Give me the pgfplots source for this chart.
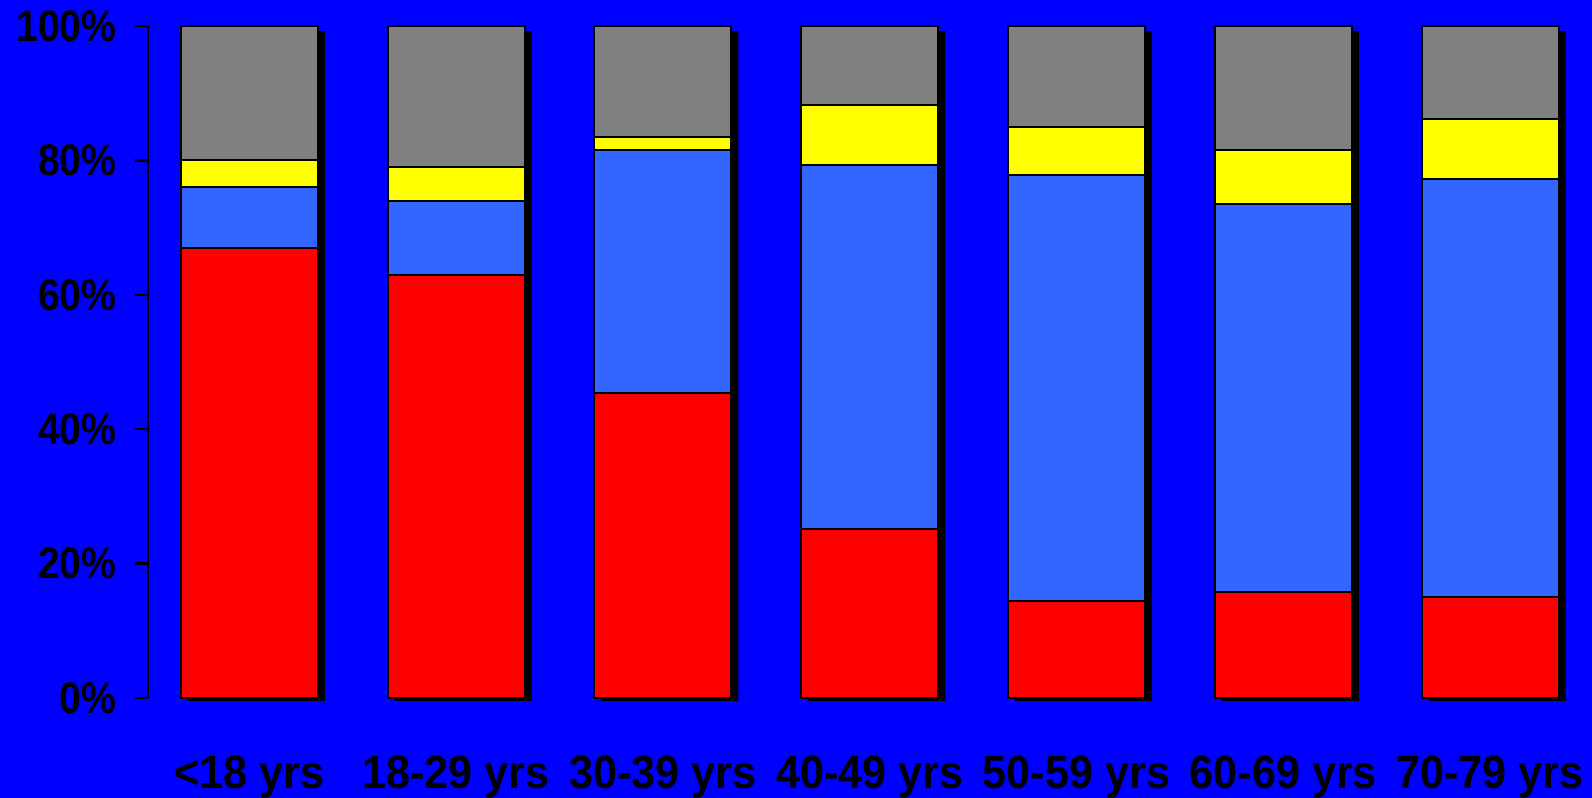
\documentclass[border=0pt]{standalone}
\usepackage{pgfplots}
\pgfplotsset{compat=1.18}
\usepackage{pgfplotstable}
\usepackage{graphicx}
\usepackage{fontspec}
\setmainfont{Liberation Sans}
\definecolor{bg}{HTML}{0000FF}
\definecolor{cRed}{HTML}{FF0000}
\definecolor{cBlue}{HTML}{3366FF}
\definecolor{cYel}{HTML}{FFFF00}
\definecolor{cGray}{HTML}{808080}
\newcommand{\yl}[1]{\scalebox{1}[1.13]{\fontsize{19.6bp}{20bp}\selectfont\bfseries #1}}
\newcommand{\xl}[1]{\scalebox{1}[1.08]{\fontsize{21.6bp}{22bp}\selectfont\bfseries #1}}
\pgfplotstableread{
x red blue yellow gray
0 67.0 9.0 4.0 20.0
1 63.0 11.0 5.0 21.0
2 45.4 36.1 2.0 16.5
3 25.1 54.2 9.0 11.7
4 14.4 63.5 7.0 15.1
5 15.7 57.8 8.0 18.5
6 15.0 62.2 9.0 13.8
}\agedata
\pgfplotstableread{
x s
0 99.7
1 99.7
2 99.7
3 99.7
4 99.7
5 99.7
6 99.7
}\shadowdata
\begin{document}
\begin{tikzpicture}
\fill[bg] (-74bp,-50bp) rectangle (722bp,349bp);
\useasboundingbox (-74bp,-50bp) rectangle (722bp,349bp);
% shadow axis
\begin{axis}[
  at={(3.5bp,-1.5bp)}, anchor=south west,
  scale only axis, width=721.75bp, height=336bp,
  xmin=-0.49, xmax=6.49, ymin=0, ymax=100,
  hide axis, ybar, bar width=68.5bp,
]
\addplot[fill=black, draw=none] table[x=x, y=s] {\shadowdata};
\end{axis}
% main axis
\begin{axis}[
  at={(0,0)}, anchor=south west,
  scale only axis, width=721.75bp, height=336bp,
  xmin=-0.49, xmax=6.49, ymin=0, ymax=100,
  ybar stacked, bar width=68.5bp,
  axis x line*=bottom, axis y line*=left,
  x axis line style={draw=none},
  y axis line style={line width=1.2bp, black},
  xtick={0,...,6}, xtick style={draw=none},
  xticklabels={\xl{<18 yrs},\xl{18-29 yrs},\xl{30-39 yrs},\xl{40-49 yrs},\xl{50-59 yrs},\xl{60-69 yrs},\xl{70-79 yrs}},
  xticklabel style={anchor=base, inner sep=0pt, yshift=-38.5bp},
  ytick={0,20,40,60,80,100},
  yticklabels={\yl{0\%},\yl{20\%},\yl{40\%},\yl{60\%},\yl{80\%},\yl{100\%}},
  yticklabel style={anchor=east, inner sep=0pt, xshift=-9bp},
  tick align=outside, major tick length=6.5bp,
  ytick style={line width=1.2bp, black},
  every axis plot/.append style={draw=black, line width=1bp},
]
\addplot[fill=cRed] table[x=x, y=red] {\agedata};
\addplot[fill=cBlue] table[x=x, y=blue] {\agedata};
\addplot[fill=cYel] table[x=x, y=yellow] {\agedata};
\addplot[fill=cGray] table[x=x, y=gray] {\agedata};
\end{axis}
\end{tikzpicture}
\end{document}
